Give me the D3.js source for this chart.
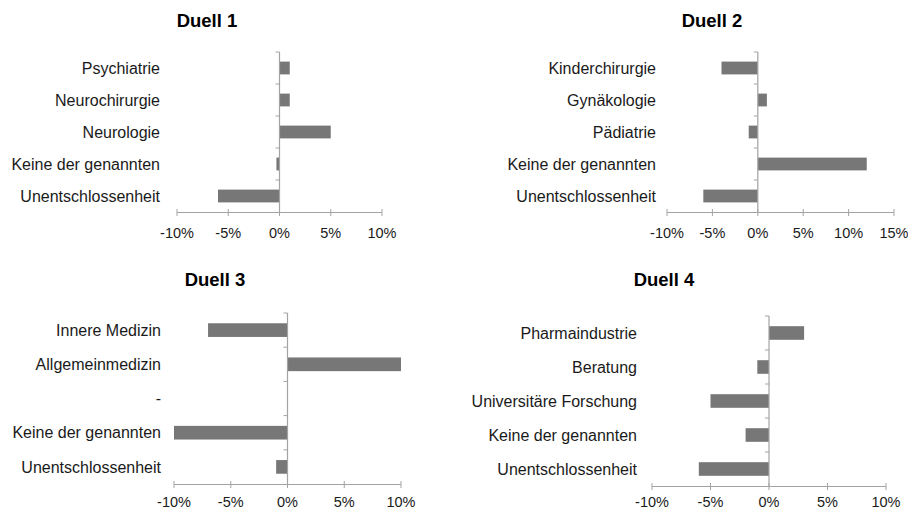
<!DOCTYPE html>
<html>
<head>
<meta charset="utf-8">
<script src="https://cdn.jsdelivr.net/npm/d3@7"></script>
<style>
  html, body { margin: 0; padding: 0; background: #fff; }
  svg { display: block; font-family: "Liberation Sans", Arial, Helvetica, sans-serif; }
</style>
</head>
<body>
<svg id="chart" width="908" height="513"></svg>
<script>
// ---- data ----
const titles = ["Duell 1", "Duell 2", "Duell 3", "Duell 4"];

const categories1 = ["Psychiatrie", "Neurochirurgie", "Neurologie", "Keine der genannten", "Unentschlossenheit"];
const values1 = [1, 1, 5, -0.3, -6];

const categories2 = ["Kinderchirurgie", "Gynäkologie", "Pädiatrie", "Keine der genannten", "Unentschlossenheit"];
const values2 = [-4, 1, -1, 12, -6];

const categories3 = ["Innere Medizin", "Allgemeinmedizin", "-", "Keine der genannten", "Unentschlossenheit"];
const values3 = [-7, 10, null, -10, -1];

const categories4 = ["Pharmaindustrie", "Beratung", "Universitäre Forschung", "Keine der genannten", "Unentschlossenheit"];
const values4 = [3, -1, -5, -2, -6];

const ticks1 = [-10, -5, 0, 5, 10];
const ticks2 = [-10, -5, 0, 5, 10, 15];
const ticks3 = [-10, -5, 0, 5, 10];
const ticks4 = [-10, -5, 0, 5, 10];

// ---- layout (positions only) ----
const panels = [
  { cats: categories1, vals: values1, ticks: ticks1, x0: 177, x1: 382, y0: 52,  y1: 212, labelGap: 17, titleX: 207, titleY: 27,  tickDy: 26 },
  { cats: categories2, vals: values2, ticks: ticks2, x0: 667, x1: 894, y0: 52,  y1: 212, labelGap: 11, titleX: 712, titleY: 27,  tickDy: 26 },
  { cats: categories3, vals: values3, ticks: ticks3, x0: 174, x1: 401, y0: 313, y1: 484, labelGap: 13, titleX: 215, titleY: 286, tickDy: 23 },
  { cats: categories4, vals: values4, ticks: ticks4, x0: 652, x1: 886, y0: 316, y1: 486, labelGap: 15, titleX: 664, titleY: 286, tickDy: 21 }
];

const barColor = "#777777";
const axisColor = "#a3a3a3";
const textColor = "#1a1a1a";

const svg = d3.select("#chart");

panels.forEach((p, i) => {
  const ticks = p.ticks;
  const x = d3.scaleLinear().domain([ticks[0], ticks[ticks.length - 1]]).range([p.x0, p.x1]);
  const y = d3.scaleBand().domain(p.cats).range([p.y0, p.y1]).paddingInner(0.6).paddingOuter(0.3);
  const yb = d3.scaleBand().domain(p.cats).range([p.y0, p.y1]).padding(0);

  const g = svg.append("g");

  // title
  g.append("text")
    .attr("x", p.titleX).attr("y", p.titleY)
    .attr("text-anchor", "middle")
    .attr("font-size", 18.5).attr("font-weight", "bold")
    .attr("fill", "#000")
    .text(titles[i]);

  // bars
  const data = p.cats.map((c, k) => ({ c, v: p.vals[k] })).filter(d => d.v !== null);
  g.selectAll("rect.bar").data(data).join("rect")
    .attr("class", "bar")
    .attr("x", d => x(Math.min(0, d.v)))
    .attr("width", d => Math.abs(x(d.v) - x(0)))
    .attr("y", d => y(d.c))
    .attr("height", y.bandwidth())
    .attr("fill", barColor);

  // x axis line
  g.append("line")
    .attr("x1", x.range()[0]).attr("x2", x.range()[1])
    .attr("y1", p.y1 + 0.5).attr("y2", p.y1 + 0.5)
    .attr("stroke", axisColor).attr("stroke-width", 1.2);
  g.selectAll("line.xt").data(ticks).join("line")
    .attr("class", "xt")
    .attr("x1", d => x(d)).attr("x2", d => x(d))
    .attr("y1", p.y1 - 3).attr("y2", p.y1 + 4)
    .attr("stroke", axisColor).attr("stroke-width", 1);
  g.selectAll("text.xl").data(ticks).join("text")
    .attr("class", "xl")
    .attr("x", d => x(d)).attr("y", p.y1 + p.tickDy)
    .attr("text-anchor", "middle")
    .attr("font-size", 14.5)
    .attr("fill", textColor)
    .text(d => d + "%");

  // y axis line at zero
  const zx = x(0);
  g.append("line")
    .attr("x1", zx).attr("x2", zx)
    .attr("y1", p.y0).attr("y2", p.y1)
    .attr("stroke", axisColor).attr("stroke-width", 1.2);
  const bounds = p.cats.map(c => yb(c));
  g.selectAll("line.yt").data(bounds).join("line")
    .attr("class", "yt")
    .attr("x1", zx - 4).attr("x2", zx)
    .attr("y1", d => d).attr("y2", d => d)
    .attr("stroke", axisColor).attr("stroke-width", 1);

  // category labels
  g.selectAll("text.yl").data(p.cats).join("text")
    .attr("class", "yl")
    .attr("x", p.x0 - p.labelGap)
    .attr("y", d => yb(d) + yb.bandwidth() / 2)
    .attr("dy", "0.35em")
    .attr("text-anchor", "end")
    .attr("font-size", 16)
    .attr("fill", textColor)
    .text(d => d);
});
</script>
</body>
</html>
